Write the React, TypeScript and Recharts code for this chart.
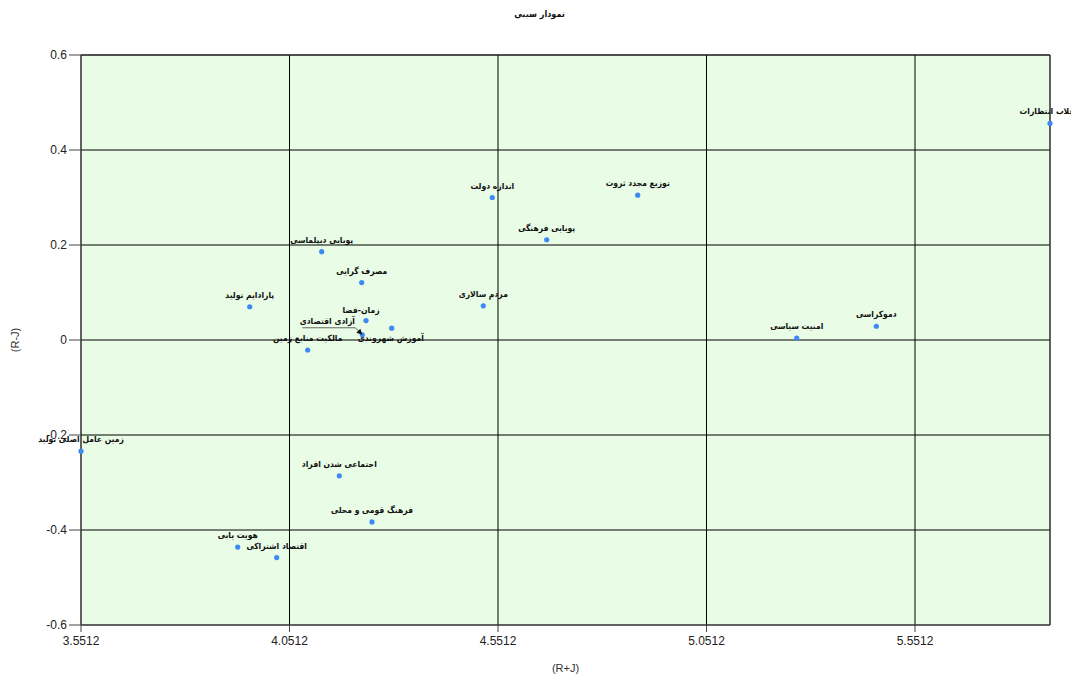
import { ScatterChart, Scatter, XAxis, YAxis, CartesianGrid, ReferenceLine } from 'recharts';

const names = [
  'انقلاب انتظارات',
  'توزیع مجدد ثروت',
  'اندازه دولت',
  'پویایی فرهنگی',
  'پویایی دیپلماسی',
  'مصرف گرایی',
  'پارادایم تولید',
  'مردم سالاری',
  'زمان-فضا',
  'آموزش شهروندی',
  'آزادی اقتصادی',
  'مالکیت منابع زمین',
  'دموکراسی',
  'امنیت سیاسی',
  'زمین عامل اصلی تولید',
  'اجتماعی شدن افراد',
  'فرهنگ قومی و محلی',
  'هویت یابی',
  'اقتصاد اشتراکی',
];

// R+J
const rPlusJ = [
  5.8749, 4.8862, 4.5375, 4.668, 4.1284, 4.2243, 3.9558, 4.5159, 4.2347, 4.2963,
  4.2258, 4.0948, 5.4584, 5.2675, 3.5512, 4.1706, 4.249, 3.927, 4.0205,
];

// R-J
const rMinusJ = [
  0.456, 0.305, 0.3, 0.211, 0.186, 0.121, 0.07, 0.072, 0.041, 0.025,
  0.011, -0.021, 0.029, 0.004, -0.234, -0.286, -0.383, -0.436, -0.458,
];

const xTicks = [3.5512, 4.0512, 4.5512, 5.0512, 5.5512];
const yTicks = [-0.6, -0.4, -0.2, 0, 0.2, 0.4, 0.6];

const data = names.map((name, i) => ({ name, x: rPlusJ[i], y: rMinusJ[i] }));
const xMax = Math.max(...rPlusJ);

const labelFont = "'DejaVu Sans Condensed', 'DejaVu Sans', sans-serif";

function PointWithLabel(props: any) {
  const { cx, cy, payload } = props;
  if (cx == null || cy == null) return null;
  const name = payload.name as string;
  const textProps = {
    fontFamily: labelFont,
    fontSize: 8.5,
    fontWeight: 700,
    fill: '#111',
    textAnchor: 'middle' as const,
  };
  let label;
  if (name === 'آموزش شهروندی') {
    label = (
      <text x={cx - 1} y={cy + 13} {...textProps}>
        {name}
      </text>
    );
  } else if (name === 'آزادی اقتصادی') {
    label = (
      <g>
        <polyline
          points={`${cx - 60},${cy - 7} ${cx - 7},${cy - 7} ${cx - 2},${cy - 2}`}
          fill="none"
          stroke="#666"
          strokeWidth={1}
        />
        <polygon points={`${cx},${cy} ${cx - 6},${cy - 2} ${cx - 2},${cy - 6}`} fill="#111" />
        <text x={cx - 35} y={cy - 11} {...textProps}>
          {name}
        </text>
      </g>
    );
  } else if (name === 'زمان-فضا') {
    label = (
      <text x={cx - 5} y={cy - 8} {...textProps}>
        {name}
      </text>
    );
  } else {
    label = (
      <text x={cx} y={cy - 9} {...textProps}>
        {name}
      </text>
    );
  }
  return (
    <g>
      <circle cx={cx} cy={cy} r={2.6} fill="#3d8af2" />
      {label}
    </g>
  );
}

export default function App() {
  return (
    <div style={{ position: 'relative', width: 1063, height: 669 }}>
      <div
        style={{
          position: 'absolute',
          top: 1,
          left: 0,
          width: 1063,
          textAlign: 'center',
          fontFamily: labelFont,
          fontSize: 9,
          fontWeight: 700,
          color: '#111',
          direction: 'rtl',
        }}
      >
        نمودار سببی
      </div>
      <ScatterChart width={1071} height={669} margin={{ top: 47, right: 29, left: 0, bottom: 0 }}>
        <CartesianGrid stroke="#000" strokeWidth={1} fill="#e8fce6" fillOpacity={1} />
        <XAxis
          type="number"
          dataKey="x"
          domain={['dataMin', xMax]}
          ticks={xTicks}
          tickFormatter={(v: number) => v.toFixed(4)}
          height={52}
          tickSize={7}
          tickMargin={4}
          stroke="#444"
          tick={{ fill: '#222', fontSize: 12, fontFamily: "'Liberation Sans Narrow', 'Liberation Sans', Arial" }}
          label={{ value: '(R+J)', position: 'insideBottom', offset: 5, fill: '#333', fontSize: 11, fontFamily: "'Liberation Sans Narrow', 'Liberation Sans', Arial" }}
        />
        <YAxis
          type="number"
          dataKey="y"
          domain={[-0.6, 0.6]}
          ticks={yTicks}
          tickFormatter={(v: number) => (v === 0 ? '0' : String(v))}
          width={73}
          tickSize={12}
          stroke="#444"
          tick={{ fill: '#222', fontSize: 12, fontFamily: "'Liberation Sans', Arial" }}
          label={{ value: '(R-J)', angle: -90, position: 'insideLeft', offset: 7, fill: '#333', fontSize: 11, fontFamily: "'Liberation Sans', Arial", style: { textAnchor: 'middle' } }}
        />
        <ReferenceLine x={xMax} stroke="#444" />
        <ReferenceLine y={0.6} stroke="#222" />
        <Scatter data={data} shape={PointWithLabel} isAnimationActive={false} />
      </ScatterChart>
    </div>
  );
}
